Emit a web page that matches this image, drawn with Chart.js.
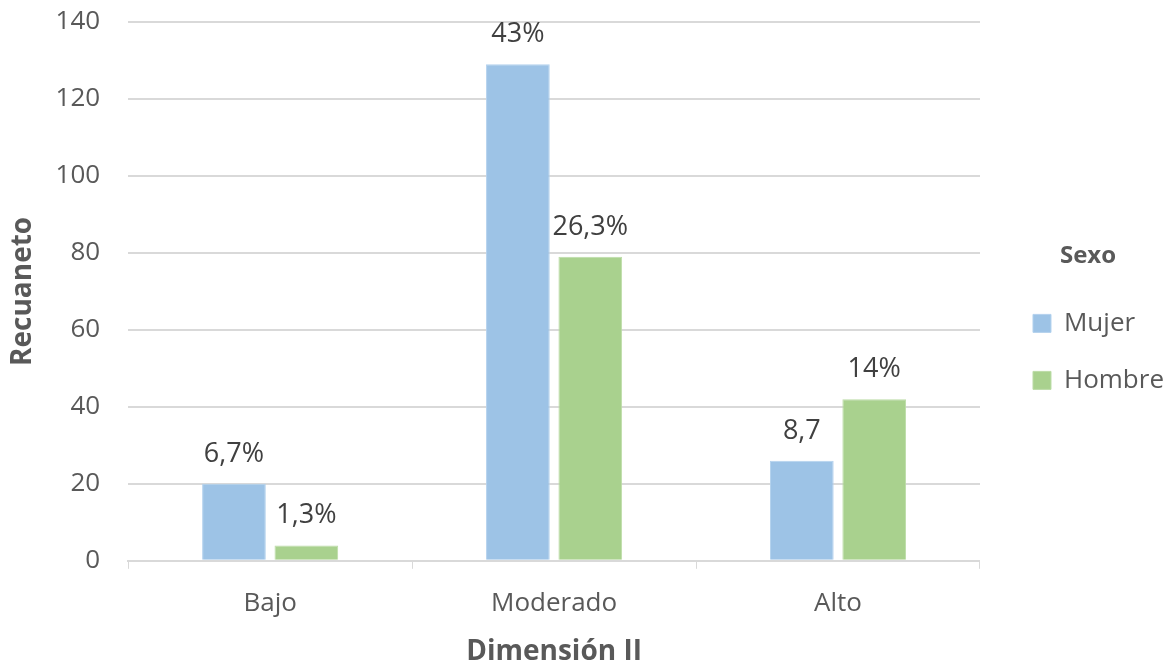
<!DOCTYPE html>
<html>
<head>
<meta charset="utf-8">
<script src="https://cdn.jsdelivr.net/npm/chart.js@4/dist/chart.umd.min.js"></script>
<style>
    html, body { margin: 0; padding: 0; background: #fff; }
    #wrap { width: 1174px; height: 666px; }
</style>
</head>
<body>
<div id="wrap"><canvas id="chart"></canvas></div>
<script>
// Chart data
const categories = ['Bajo', 'Moderado', 'Alto'];
const mujer = [20, 129, 26];
const hombre = [4, 79, 42];
const mujerLabels = ['6,7%', '43%', '8,7'];
const hombreLabels = ['1,3%', '26,3%', '14%'];
const yTicks = [0, 20, 40, 60, 80, 100, 120, 140];

const FONT = "'Open Sans', sans-serif";

// Simple plugin to put text above each bar
const barLabels = {
    id: 'barLabels',
    afterDatasetsDraw(chart) {
        const ctx = chart.ctx;
        ctx.save();
        ctx.font = '27px ' + FONT;
        ctx.fillStyle = '#404040';
        ctx.textAlign = 'center';
        ctx.textBaseline = 'alphabetic';
        chart.data.datasets.forEach((ds, i) => {
            chart.getDatasetMeta(i).data.forEach((bar, j) => {
                ctx.fillText(ds.pctLabels[j], bar.x, bar.y - 22);
            });
        });
        ctx.restore();
    }
};

new Chart(document.getElementById('chart'), {
    type: 'bar',
    data: {
        labels: categories,
        datasets: [
            {
                label: 'Mujer',
                data: mujer,
                pctLabels: mujerLabels,
                backgroundColor: '#9dc3e6',
                borderColor: '#b4d2ee',
                borderWidth: 1,
                categoryPercentage: 0.51,
                barPercentage: 0.88
            },
            {
                label: 'Hombre',
                data: hombre,
                pctLabels: hombreLabels,
                backgroundColor: '#a9d18e',
                borderColor: '#bcdca7',
                borderWidth: 1,
                categoryPercentage: 0.51,
                barPercentage: 0.88
            }
        ]
    },
    options: {
        responsive: true,
        maintainAspectRatio: false,
        animation: false,
        layout: { padding: { top: 22, left: 6, right: 0, bottom: 0 } },
        scales: {
            x: {
                grid: {
                    display: true,
                    drawOnChartArea: false,
                    drawTicks: true,
                    tickLength: 8,
                    color: '#d9d9d9',
                    offset: true
                },
                border: { color: '#d9d9d9', width: 2 },
                ticks: { color: '#595959', font: { family: FONT, size: 26 }, padding: 19 },
                title: {
                    display: true,
                    text: 'Dimensión II',
                    color: '#595959',
                    font: { family: FONT, size: 28, weight: 'bold', lineHeight: 1 },
                    padding: { top: 0, bottom: 0 }
                }
            },
            y: {
                min: 0,
                max: 140,
                afterBuildTicks(axis) {
                    axis.ticks = yTicks.map(v => ({ value: v }));
                },
                grid: {
                    color: '#d9d9d9',
                    lineWidth: 2,
                    drawTicks: true,
                    tickLength: 28,
                    tickColor: 'rgba(0,0,0,0)'
                },
                border: { display: false },
                ticks: { color: '#595959', font: { family: FONT, size: 26 }, padding: 0 },
                title: {
                    display: true,
                    text: 'Recuaneto',
                    color: '#595959',
                    font: { family: FONT, size: 28, weight: 'bold' },
                    padding: { top: 0, bottom: 16 }
                }
            },
            // empty axis, only keeps room between the plot and the legend
            gap: {
                position: 'right',
                display: true,
                grid: { display: false, drawTicks: false },
                border: { display: false },
                ticks: { display: false },
                afterFit(axis) {
                    axis.width = 22;
                }
            }
        },
        plugins: {
            legend: {
                position: 'right',
                align: 'center',
                title: {
                    display: true,
                    text: 'Sexo',
                    color: '#595959',
                    font: { family: FONT, size: 24, weight: 'bold' },
                    padding: { top: -19, bottom: 6 }
                },
                labels: {
                    color: '#595959',
                    font: { family: FONT, size: 26 },
                    boxWidth: 18,
                    boxHeight: 18,
                    padding: 31
                }
            },
            tooltip: { enabled: false }
        }
    },
    plugins: [barLabels]
});
</script>
</body>
</html>
